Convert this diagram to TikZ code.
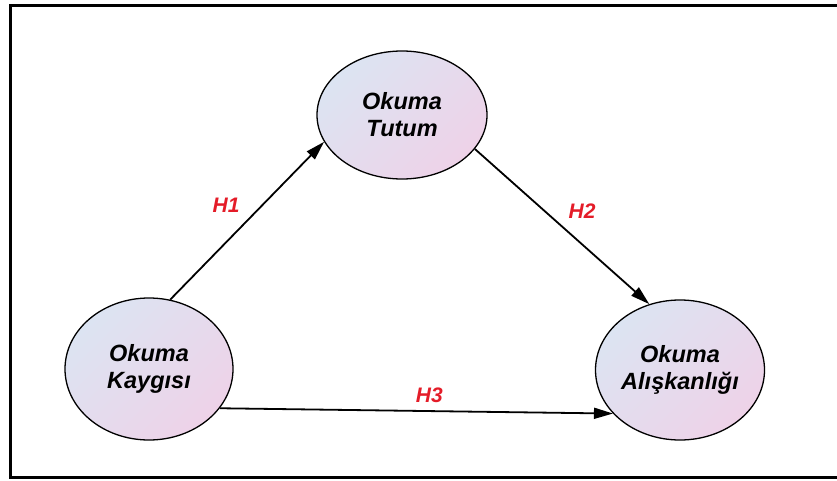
\documentclass[tikz,border=0pt]{standalone}
\usepackage{fontspec}
\setmainfont{Liberation Sans}
\usetikzlibrary{arrows.meta,shapes.geometric}
\definecolor{ellA}{RGB}{220,228,242}
\definecolor{ellB}{RGB}{238,210,232}
\definecolor{hypRed}{RGB}{228,28,40}
\begin{document}
\begin{tikzpicture}
        [x=1pt, y=1pt,
        node/.style={ellipse, draw, line width=1.3pt, inner sep=0pt, align=center,
            top color=ellA, bottom color=ellB, shading angle=45,
            font=\fontsize{23.5}{27}\selectfont\bfseries\itshape},
        hyp/.style={font=\fontsize{21}{24}\selectfont\bfseries\itshape, text=hypRed},
        arr/.style={line width=1.8pt, -{Triangle[length=19pt, width=11pt]}}]
        \useasboundingbox (0,0) rectangle (837,480);
        \draw[line width=3pt] (10.5,2.5) rectangle (850,474.5);

        \node[node, minimum width=168pt, minimum height=142pt] (K) at (149,111) {Okuma\\Kaygısı};
        \node[node, minimum width=170pt, minimum height=128pt] (T) at (402,365) {Okuma\\Tutum};
        \node[node, minimum width=169pt, minimum height=140pt] (L) at (680,110) {Okuma\\Alışkanlığı};

        \draw[arr] (K.73) -- (T.199) node[hyp, midway, xshift=-21pt, yshift=15pt] {H1};
        \draw[arr] (T.335) -- (L.115) node[hyp, midway, xshift=20pt, yshift=15pt] {H2};
        \draw[arr] (K.331) -- (L.213) node[hyp, midway, xshift=13pt, yshift=16pt] {H3};

    \end{tikzpicture}
\end{document}
